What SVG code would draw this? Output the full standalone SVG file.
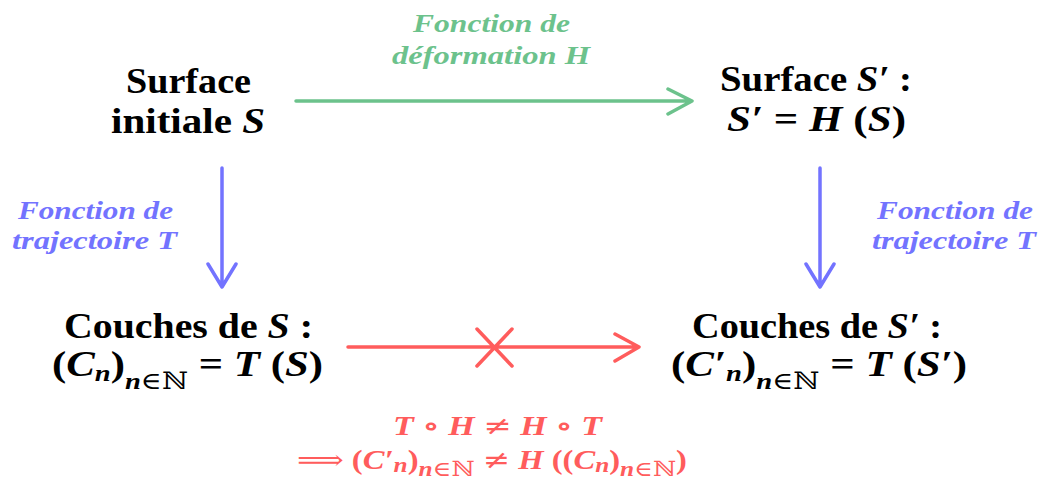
<svg xmlns="http://www.w3.org/2000/svg" width="1040" height="485" viewBox="0 0 1040 485">
<style>
text{font-family:"Liberation Serif","DejaVu Serif",serif;font-weight:bold}
.m{font-size:36px;fill:#000}
.i{font-style:italic}
.u{font-style:normal;font-weight:normal;font-family:"DejaVu Serif",serif}
.s{font-size:24px}
.t{font-size:21px}
.g{font-size:26px;font-style:italic;fill:#6cc28c}
.b{font-size:26px;font-style:italic;fill:#7373ff}
.r{font-size:27px;fill:#ff5c5c}
.ln{fill:none;stroke-width:3.5;stroke-linecap:round;stroke-linejoin:round}
</style>
<rect width="1040" height="485" fill="#fff"/>
<g id="connectors">
  <g id="edge-H" stroke="#6cc28c" class="ln">
    <path d="M296 101H692M668 89L692 101L668 114"/>
  </g>
  <g id="edge-T-left" stroke="#7373ff" class="ln">
    <path d="M222 168V287M208 264L222 287L236 264"/>
  </g>
  <g id="edge-T-right" stroke="#7373ff" class="ln">
    <path d="M820 168V287M806 264L820 287L834 264"/>
  </g>
  <g id="edge-cross" stroke="#ff5c5c" class="ln">
    <path d="M348 347H639M615 334L639 347L615 361M477 329L512 366M477 366L512 329"/>
  </g>
  <text class="g" x="413" y="32" textLength="157" lengthAdjust="spacingAndGlyphs">Fonction de</text>
  <text class="g" x="392" y="64" textLength="198" lengthAdjust="spacingAndGlyphs">déformation H</text>
  <text class="b" x="18" y="219" textLength="155" lengthAdjust="spacingAndGlyphs">Fonction de</text>
  <text class="b" x="12" y="249" textLength="165" lengthAdjust="spacingAndGlyphs">trajectoire T</text>
  <text class="b" x="877" y="219" textLength="156" lengthAdjust="spacingAndGlyphs">Fonction de</text>
  <text class="b" x="872" y="249" textLength="164" lengthAdjust="spacingAndGlyphs">trajectoire T</text>
</g>
<g id="node-S">
  <text class="m" x="126" y="93" textLength="125" lengthAdjust="spacingAndGlyphs">Surface</text>
  <text class="m" x="111" y="133" textLength="154" lengthAdjust="spacingAndGlyphs">initiale <tspan class="i">S</tspan></text>
</g>
<g id="node-Sp">
  <text class="m" x="720" y="91" textLength="192" lengthAdjust="spacingAndGlyphs">Surface <tspan class="i">S′</tspan> :</text>
  <text class="m" x="727" y="131" textLength="179" lengthAdjust="spacingAndGlyphs"><tspan class="i">S′</tspan> = <tspan class="i">H</tspan> (<tspan class="i">S</tspan>)</text>
</g>
<g id="node-C">
  <text class="m" x="64" y="338" textLength="249" lengthAdjust="spacingAndGlyphs">Couches de <tspan class="i">S</tspan> :</text>
  <text class="m" x="52" y="376" textLength="271" lengthAdjust="spacingAndGlyphs">(<tspan class="i">C</tspan><tspan class="s i" dy="5">n</tspan><tspan dy="-5">)</tspan><tspan class="s i" dy="13">n</tspan><tspan class="s u">∈ℕ</tspan><tspan dy="-13"> = </tspan><tspan class="i">T</tspan> (<tspan class="i">S</tspan>)</text>
</g>
<g id="node-Cp">
  <text class="m" x="692" y="338" textLength="250" lengthAdjust="spacingAndGlyphs">Couches de <tspan class="i">S′</tspan> :</text>
  <text class="m" x="671" y="376" textLength="296" lengthAdjust="spacingAndGlyphs">(<tspan class="i">C′</tspan><tspan class="s i" dy="5">n</tspan><tspan dy="-5">)</tspan><tspan class="s i" dy="13">n</tspan><tspan class="s u">∈ℕ</tspan><tspan dy="-13"> = </tspan><tspan class="i">T</tspan> (<tspan class="i">S′</tspan>)</text>
</g>
<g id="note">
  <text class="r" x="393" y="435" textLength="209" lengthAdjust="spacingAndGlyphs"><tspan class="i">T</tspan> ∘ <tspan class="i">H</tspan> <tspan class="u">≠</tspan> <tspan class="i">H</tspan> ∘ <tspan class="i">T</tspan></text>
  <text class="r" x="297" y="469" textLength="390" lengthAdjust="spacingAndGlyphs"><tspan class="u">⟹</tspan> (<tspan class="i">C′</tspan><tspan class="t i" dy="3">n</tspan><tspan dy="-3">)</tspan><tspan class="t i" dy="7">n</tspan><tspan class="t u">∈ℕ</tspan><tspan dy="-7"> <tspan class="u">≠</tspan> </tspan><tspan class="i">H</tspan> ((<tspan class="i">C</tspan><tspan class="t i" dy="3">n</tspan><tspan dy="-3">)</tspan><tspan class="t i" dy="7">n</tspan><tspan class="t u">∈ℕ</tspan><tspan dy="-7">)</tspan></text>
</g>
</svg>
